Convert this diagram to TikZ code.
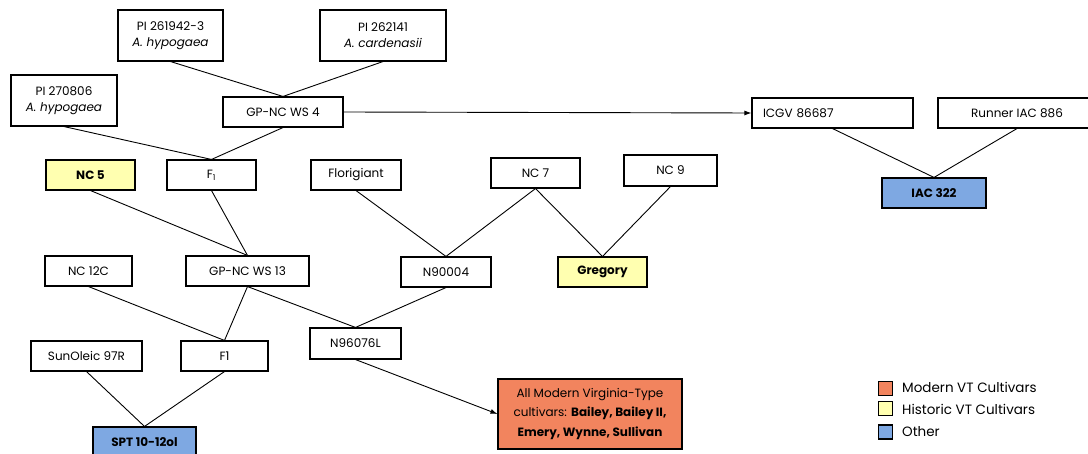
\documentclass[tikz,border=0pt]{standalone}
\usepackage{fontspec}
\setmainfont{Poppins}
\usetikzlibrary{arrows.meta}
\definecolor{modern}{HTML}{F2845E}
\definecolor{historic}{HTML}{FFFFB0}
\definecolor{other}{HTML}{7EA8E2}
\begin{document}
\begin{tikzpicture}[x=1pt,y=-1pt,
  box/.style={draw=black, line width=1.1pt, fill=white, inner sep=0pt, align=center, font=\fontsize{12}{16}\selectfont},
  boldbox/.style={box, font=\fontsize{12}{16}\selectfont\bfseries},
  link/.style={draw=black, line width=0.9pt},
  arrowlink/.style={link, -{Latex[length=7pt,width=5pt]}},
  legbox/.style={draw=black, line width=1.2pt, minimum width=14pt, minimum height=14pt, inner sep=0pt},
  legtext/.style={anchor=west, inner sep=0pt, font=\fontsize{13.5}{16}\selectfont}
]
\useasboundingbox (0,0) rectangle (1088,454);
% nodes: center at (cx,cy), size w x h
\node[box, minimum width=105pt, minimum height=51pt] (pia) at (170.5,35.5) {PI 261942-3\\\textit{A. hypogaea}};
\node[box, minimum width=126pt, minimum height=51pt] (pib) at (383,35.5) {PI 262141\\\textit{A. cardenasii}};
\node[box, minimum width=106pt, minimum height=51pt] (pic) at (64,100.5) {PI 270806\\\textit{A. hypogaea}};
\node[box, minimum width=120pt, minimum height=30pt] (ws4) at (283,112) {GP-NC WS 4};
\node[boldbox, minimum width=89pt, minimum height=30pt, fill=historic] (nc5) at (90.5,175) {NC 5};
\node[box, minimum width=89pt, minimum height=30pt] (f1a) at (211.5,175) {F\textsubscript{1}};
\node[box, minimum width=90pt, minimum height=30pt] (flo) at (356,175) {Florigiant};
\node[box, minimum width=89pt, minimum height=30pt] (nc7) at (535.5,173) {NC 7};
\node[box, minimum width=93pt, minimum height=31pt] (nc9) at (670.5,170.5) {NC 9};
\node[box, minimum width=161pt, minimum height=30pt, text width=139pt, align=left] (icgv) at (832.5,113) {ICGV 86687};
\node[box, minimum width=158pt, minimum height=30pt] (run) at (1017,113) {Runner IAC 886};
\node[boldbox, minimum width=104pt, minimum height=30pt, fill=other] (iac) at (934,193) {IAC 322};
\node[box, minimum width=87pt, minimum height=30pt] (nc12) at (88.5,271) {NC 12C};
\node[box, minimum width=123pt, minimum height=30pt] (ws13) at (247.5,271) {GP-NC WS 13};
\node[box, minimum width=90pt, minimum height=30pt] (n900) at (446,272) {N90004};
\node[boldbox, minimum width=89pt, minimum height=30pt, fill=historic] (greg) at (602.5,272) {Gregory};
\node[box, minimum width=111pt, minimum height=30pt] (sun) at (86.5,356) {SunOleic 97R};
\node[box, minimum width=87pt, minimum height=30pt] (f1b) at (224.5,356) {F1};
\node[box, minimum width=91pt, minimum height=31pt] (n960) at (355.5,343.5) {N96076L};
\node[boldbox, minimum width=103pt, minimum height=30pt, fill=other] (spt) at (144.5,442) {SPT 10-12ol};
\node[box, minimum width=184pt, minimum height=70pt, fill=modern, font=\fontsize{12}{19.5}\selectfont] (mod) at (590,414) {All Modern Virginia-Type\\cultivars: \textbf{Bailey, Bailey II,}\\\textbf{Emery, Wynne, Sullivan}};
% connectors
\draw[link] (pia.south) -- (ws4.north);
\draw[link] (pib.south) -- (ws4.north);
\draw[link] (pic.south) -- (f1a.north);
\draw[link] (ws4.south) -- (f1a.north);
\draw[arrowlink] (ws4.east) -- (icgv.west);
\draw[link] (icgv.south) -- (iac.north);
\draw[link] (run.south) -- (iac.north);
\draw[link] (nc5.south) -- (ws13.north);
\draw[link] (f1a.south) -- (ws13.north);
\draw[link] (flo.south) -- (n900.north);
\draw[link] (nc7.south) -- (n900.north);
\draw[link] (nc7.south) -- (greg.north);
\draw[link] (nc9.south) -- (greg.north);
\draw[link] (nc12.south) -- (f1b.north);
\draw[link] (ws13.south) -- (f1b.north);
\draw[link] (ws13.south) -- (n960.north);
\draw[link] (n900.south) -- (n960.north);
\draw[link] (sun.south) -- (spt.north);
\draw[link] (f1b.south) -- (spt.north);
\draw[arrowlink] (n960.south) -- (mod.west);
% legend
\node[legbox, fill=modern] (lg1) at (885.5,388.5) {};
\node[legbox, fill=historic] (lg2) at (885.5,408.5) {};
\node[legbox, fill=other] (lg3) at (885.5,432) {};
\node[legtext] (lt1) at (902,387.5) {Modern VT Cultivars};
\node[legtext] (lt2) at (902,409) {Historic VT Cultivars};
\node[legtext] (lt3) at (902,432) {Other};
\end{tikzpicture}
\end{document}
